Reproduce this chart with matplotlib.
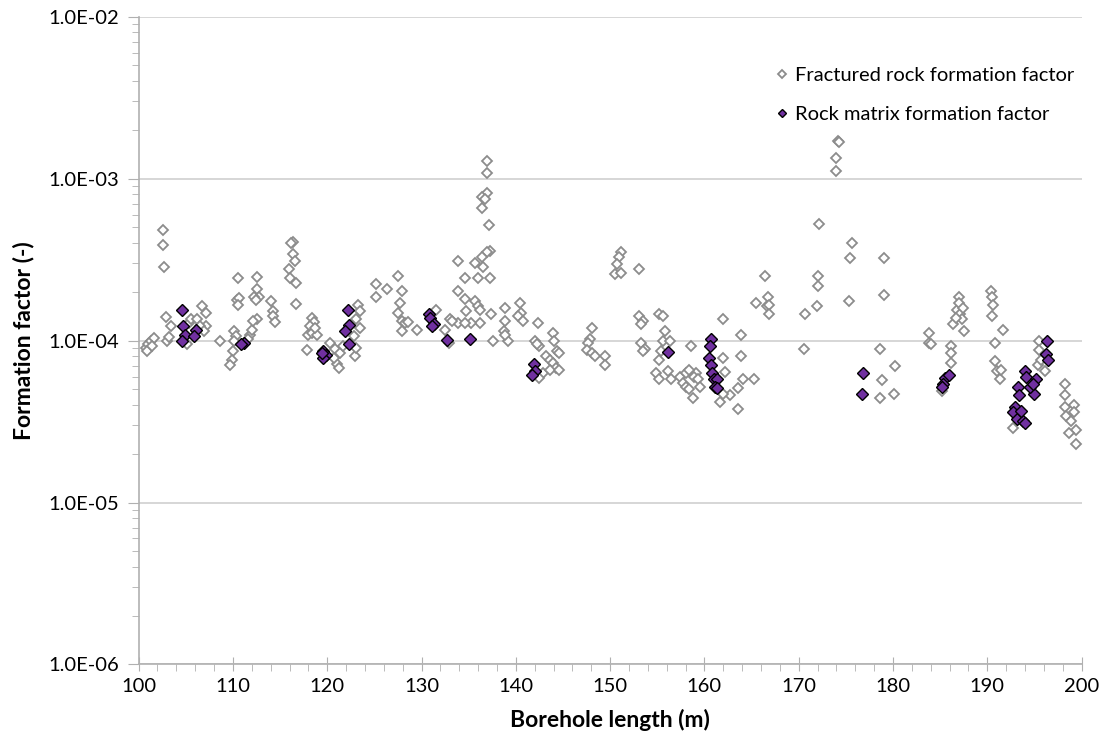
import matplotlib
matplotlib.use('Agg')
import matplotlib.pyplot as plt
from matplotlib.ticker import FuncFormatter, LogLocator, MultipleLocator

plt.rcParams['font.family'] = ['Lato', 'DejaVu Sans']

# fractured rock formation factor (borehole length in m, formation factor)
frac_x = [100.8, 101.0, 101.3, 101.6, 100.9, 101.4,
          102.6, 102.6, 102.7, 102.9, 103.0, 103.2, 103.4,
          105.3, 105.6, 106.2, 106.7, 107.1, 107.1, 105.1, 106.5, 106.9, 108.6,
          110.5, 110.4, 110.6, 110.5, 110.1, 110.3, 110.1, 110.0, 109.9, 109.7,
          111.8, 112.0, 111.6,
          112.5, 112.6, 112.8, 112.2, 112.4, 112.5, 112.1,
          114.0, 114.2, 114.3, 114.5,
          116.4, 116.2, 116.4, 116.6, 115.9, 116.1, 116.7, 116.7,
          118.4, 118.6, 118.2, 118.0, 117.9, 118.4, 118.9, 118.7,
          120.3, 120.8, 121.0, 121.2, 120.7, 121.4, 121.7,
          123.3, 123.5, 123.1, 123.5, 122.8, 122.9, 123.1,
          125.2, 125.2, 126.3,
          127.5, 127.9, 127.7, 127.5, 127.9, 128.3, 127.9, 128.6, 129.5,
          131.5, 132.5, 133.0, 132.9, 133.9, 133.9, 133.9,
          136.9, 136.9, 136.9, 136.4, 136.7, 136.4, 137.2, 137.3, 136.9, 136.4, 135.7, 136.5,
          136.0, 134.6, 137.3, 134.6, 134.7, 135.7, 136.0, 136.2, 136.2, 135.3, 134.6, 133.2,
          137.4, 137.6,
          138.8, 138.8, 138.7, 139.2, 138.8,
          140.4, 140.6, 140.2, 140.8,
          142.3, 142.0, 142.5, 142.2,
          143.9, 144.1, 144.4, 144.6, 143.2, 143.6, 143.9, 144.3, 142.9, 142.5, 143.6, 144.6,
          148.1, 147.9, 147.7, 147.5, 148.1, 148.4, 149.5, 149.5,
          151.2, 150.9, 150.7, 150.5, 151.2, 153.1,
          153.1, 153.5, 153.3, 155.2, 155.6, 153.3, 153.7, 153.5,
          155.8, 155.6, 156.3, 155.4, 155.2, 154.9, 155.2, 156.1, 156.5,
          158.6, 157.4, 157.7, 158.1, 158.8, 158.4, 159.1, 158.1, 158.4, 158.9, 159.3, 159.5,
          162.0, 162.0, 162.2, 163.9, 163.9, 165.3, 164.1, 163.6, 163.6, 162.7, 161.7, 162.0,
          166.4, 165.5, 166.7, 166.6, 166.9, 166.9,
          170.6, 170.7, 171.9, 172.0, 172.0, 172.1,
          174.2, 174.3, 174.0, 174.0,
          175.6, 175.4, 175.3,
          179.0, 179.0, 178.6, 178.8, 178.6, 180.2, 180.1,
          183.8, 183.8, 184.0, 185.2,
          187.0, 186.8, 187.1, 187.3, 186.4, 187.5, 186.2, 186.1, 186.2, 187.0, 186.7, 187.4,
          190.4, 190.5, 190.6, 190.5, 191.7, 190.8, 190.8, 191.0, 191.3, 191.5,
          192.7, 195.5, 195.5, 195.4, 196.1, 195.7,
          198.2, 198.2, 198.2, 199.2, 198.4, 198.9, 199.2, 199.4, 198.7, 199.4]
frac_y = [9.0e-5, 9.5e-5, 1.0e-4, 1.04e-4, 8.6e-5, 9.2e-5,
          4.8e-4, 3.9e-4, 2.84e-4, 1.40e-4, 1.0e-4, 1.05e-4, 1.23e-4,
          1.29e-4, 1.36e-4, 1.36e-4, 1.63e-4, 1.49e-4, 1.23e-4, 9.5e-5, 1.23e-4, 1.15e-4, 1.0e-4,
          2.42e-4, 1.79e-4, 1.83e-4, 1.67e-4, 1.15e-4, 1.07e-4, 1.0e-4, 8.6e-5, 7.6e-5, 7.1e-5,
          1.08e-4, 1.17e-4, 1.03e-4,
          2.48e-4, 2.07e-4, 1.87e-4, 1.87e-4, 1.79e-4, 1.36e-4, 1.33e-4,
          1.75e-4, 1.52e-4, 1.41e-4, 1.31e-4,
          4.06e-4, 4.0e-4, 3.43e-4, 3.12e-4, 2.78e-4, 2.45e-4, 2.28e-4, 1.69e-4,
          1.38e-4, 1.31e-4, 1.23e-4, 1.08e-4, 8.8e-5, 1.11e-4, 1.08e-4, 1.2e-4,
          9.6e-5, 8.9e-5, 7.2e-5, 6.8e-5, 7.8e-5, 8.4e-5, 9.3e-5,
          1.67e-4, 1.53e-4, 1.36e-4, 1.20e-4, 1.06e-4, 8.0e-5, 9.0e-5,
          2.25e-4, 1.87e-4, 2.09e-4,
          2.52e-4, 2.01e-4, 1.71e-4, 1.49e-4, 1.32e-4, 1.29e-4, 1.14e-4, 1.30e-4, 1.17e-4,
          1.55e-4, 1.17e-4, 1.36e-4, 9.6e-5, 3.12e-4, 2.01e-4, 1.29e-4,
          1.29e-3, 1.08e-3, 8.2e-4, 7.74e-4, 7.45e-4, 6.56e-4, 5.15e-4, 3.57e-4, 3.5e-4, 3.29e-4, 3.0e-4, 2.84e-4,
          2.45e-4, 2.45e-4, 2.45e-4, 1.81e-4, 1.52e-4, 1.75e-4, 1.63e-4, 1.55e-4, 1.29e-4, 1.29e-4, 1.29e-4, 1.32e-4,
          1.45e-4, 1.0e-4,
          1.58e-4, 1.32e-4, 1.14e-4, 1.0e-4, 1.08e-4,
          1.71e-4, 1.49e-4, 1.41e-4, 1.32e-4,
          1.29e-4, 1.0e-4, 9.3e-5, 9.5e-5,
          1.11e-4, 9.9e-5, 8.6e-5, 8.4e-5, 8.0e-5, 7.6e-5, 7.3e-5, 6.8e-5, 6.3e-5, 5.9e-5, 6.6e-5, 6.6e-5,
          1.2e-4, 1.03e-4, 9.6e-5, 8.8e-5, 8.4e-5, 8.0e-5, 8.0e-5, 7.1e-5,
          3.5e-4, 3.29e-4, 2.97e-4, 2.56e-4, 2.62e-4, 2.76e-4,
          1.41e-4, 1.32e-4, 1.26e-4, 1.45e-4, 1.41e-4, 9.6e-5, 8.9e-5, 8.6e-5,
          1.14e-4, 9.9e-5, 9.9e-5, 8.6e-5, 7.6e-5, 6.3e-5, 5.8e-5, 6.5e-5, 5.8e-5,
          9.3e-5, 6.0e-5, 5.5e-5, 5.2e-5, 4.4e-5, 5.0e-5, 6.3e-5, 6.3e-5, 6.6e-5, 6.0e-5, 5.8e-5, 5.2e-5,
          1.36e-4, 7.8e-5, 6.4e-5, 1.08e-4, 8.0e-5, 5.8e-5, 5.8e-5, 5.1e-5, 3.8e-5, 4.6e-5, 4.2e-5, 4.7e-5,
          2.5e-4, 1.71e-4, 1.87e-4, 1.63e-4, 1.67e-4, 1.45e-4,
          8.9e-5, 1.45e-4, 1.63e-4, 2.5e-4, 2.18e-4, 5.23e-4,
          1.72e-3, 1.69e-3, 1.35e-3, 1.12e-3,
          4.03e-4, 3.22e-4, 1.75e-4,
          3.22e-4, 1.9e-4, 8.9e-5, 5.7e-5, 4.4e-5, 7.0e-5, 4.7e-5,
          1.11e-4, 9.6e-5, 9.5e-5, 4.9e-5,
          1.87e-4, 1.55e-4, 1.45e-4, 1.36e-4, 1.26e-4, 1.14e-4, 9.3e-5, 8.4e-5, 7.3e-5, 1.71e-4, 1.38e-4, 1.60e-4,
          2.02e-4, 1.87e-4, 1.67e-4, 1.41e-4, 1.16e-4, 9.6e-5, 7.5e-5, 6.5e-5, 5.8e-5, 6.6e-5,
          2.9e-5, 9.9e-5, 8.8e-5, 7.1e-5, 6.5e-5, 7.6e-5,
          5.4e-5, 4.6e-5, 3.9e-5, 4.0e-5, 3.4e-5, 3.2e-5, 3.6e-5, 2.8e-5, 2.7e-5, 2.3e-5]

# rock matrix formation factor
matrix_x = [104.6, 104.7, 104.9, 104.6, 106.1, 105.9,
            111.2, 110.9,
            119.5, 119.9, 119.6, 119.4,
            122.2, 122.3, 121.9, 122.3,
            130.8, 130.9, 131.3, 131.1, 132.7,
            135.1,
            141.9, 142.0, 141.7,
            156.1,
            160.7, 160.6, 160.5, 160.7, 160.8, 161.0, 161.3, 161.1, 161.3,
            176.8, 176.7,
            185.5, 185.9, 185.3, 185.2,
            194.0, 194.1, 193.3, 193.4, 192.9, 192.7, 193.1, 193.8, 194.0, 193.6,
            195.2, 195.0, 194.5, 194.9, 196.3, 196.2, 196.4]
matrix_y = [1.54e-4, 1.23e-4, 1.08e-4, 1.0e-4, 1.17e-4, 1.07e-4,
            9.6e-5, 9.5e-5,
            8.6e-5, 8.2e-5, 7.8e-5, 8.4e-5,
            1.55e-4, 1.24e-4, 1.15e-4, 9.5e-5,
            1.46e-4, 1.38e-4, 1.26e-4, 1.23e-4, 1.01e-4,
            1.03e-4,
            7.2e-5, 6.5e-5, 6.1e-5,
            8.5e-5,
            1.03e-4, 9.3e-5, 7.8e-5, 7.1e-5, 6.3e-5, 5.8e-5, 5.8e-5, 5.2e-5, 5.1e-5,
            6.3e-5, 4.7e-5,
            5.9e-5, 6.1e-5, 5.4e-5, 5.2e-5,
            6.5e-5, 6.0e-5, 5.2e-5, 4.6e-5, 3.9e-5, 3.6e-5, 3.3e-5, 3.2e-5, 3.1e-5, 3.7e-5,
            5.8e-5, 4.7e-5, 5.2e-5, 5.4e-5, 1.0e-4, 8.3e-5, 7.6e-5]

fig = plt.figure(figsize=(11.1, 7.46), dpi=100)
ax = fig.add_axes([0.1249, 0.1093, 0.8495, 0.8683])

ax.plot(frac_x, frac_y, linestyle='none', marker='D', ms=5.5, mfc='white',
        mec='#8c8c8c', mew=1.3, label='Fractured rock formation factor')
ax.plot(matrix_x, matrix_y, linestyle='none', marker='D', ms=6.5, mfc='#7030A0',
        mec='black', mew=1.0, label='Rock matrix formation factor')

ax.set_yscale('log')
ax.set_ylim(1e-6, 1e-2)
ax.set_xlim(100, 200)
ax.xaxis.set_major_locator(MultipleLocator(10))
ax.xaxis.set_minor_locator(MultipleLocator(2))
ax.yaxis.set_major_locator(LogLocator(base=10, numticks=10))
ax.yaxis.set_minor_locator(LogLocator(base=10, subs=range(2, 10), numticks=20))
ax.yaxis.set_major_formatter(FuncFormatter(lambda v, p: f'{v:.1E}'))
ax.yaxis.set_minor_formatter(FuncFormatter(lambda v, p: ''))

ax.grid(axis='y', which='major', color='#d0d0d0', linewidth=1.2)
ax.set_axisbelow(True)
for s in ['top', 'right']:
    ax.spines[s].set_visible(False)
for s in ['left', 'bottom']:
    ax.spines[s].set_color('#b0b0b0')
    ax.spines[s].set_linewidth(1.2)

ax.tick_params(axis='both', which='both', colors='#b0b0b0', labelcolor='black', labelsize=14.5)
ax.tick_params(axis='x', which='major', direction='inout', length=10, pad=5)
ax.tick_params(axis='x', which='minor', direction='out', length=5)
ax.tick_params(axis='y', which='major', direction='out', length=8, pad=6)
ax.tick_params(axis='y', which='minor', direction='out', length=5)

ax.set_xlabel('Borehole length (m)', fontsize=16.5, fontweight='bold', labelpad=10)
ax.set_ylabel('Formation factor (-)', fontsize=16.5, fontweight='bold', labelpad=10)

ax.legend(loc='upper right', bbox_to_anchor=(1.011, 0.95), frameon=False, fontsize=14.5,
          markerscale=0.7, handletextpad=0.1, handlelength=1.0, labelspacing=1.05)

plt.savefig('out.png', dpi=100)
